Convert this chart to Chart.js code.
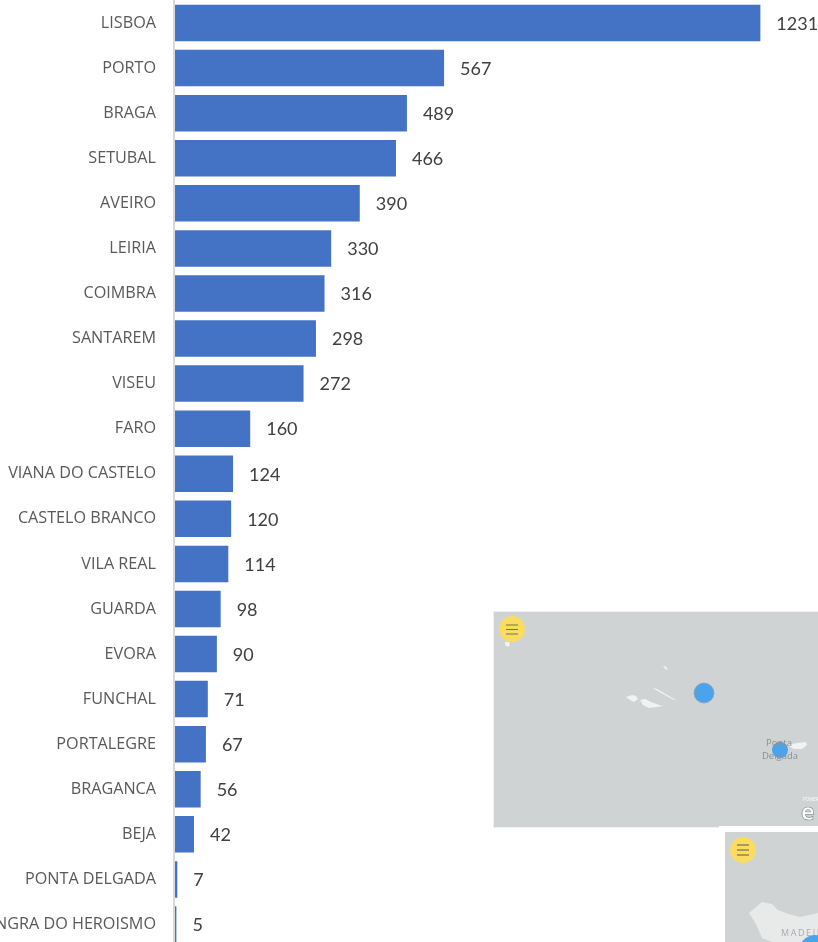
<!DOCTYPE html>
<html>
<head>
<meta charset="utf-8">
<title>Distritos</title>
<script src="https://cdn.jsdelivr.net/npm/chart.js@4"></script>
<style>
  html, body { margin: 0; padding: 0; background: #fff; width: 818px; height: 942px; overflow: hidden; }
  #wrap { position: relative; width: 818px; height: 942px; overflow: hidden; }
  #chart { position: absolute; left: 0; top: 0; }
  #maps { position: absolute; left: 0; top: 0; }
</style>
</head>
<body>
<div id="wrap">
  <canvas id="chart" width="818" height="947" style="width:818px;height:947px"></canvas>

  <!-- os dois mapas por cima do grafico -->
  <svg id="maps" width="818" height="942" viewBox="0 0 818 942" font-family="'Open Sans', sans-serif">
    <rect x="493" y="611" width="325" height="217" fill="#f0f1f1"/>
    <rect x="494" y="612" width="324" height="215" fill="#d0d3d4"/>
    <path d="M626 697 l6 -2 l4 1 l2 3 l-4 3 l-4 -2 z M640 700 l5 -1 l6 3 l8 3 l4 1 l-6 1 l-8 1 l-6 -3 z M653 688 l4 1 l19 11 l-2 0 l-20 -11 z M663 666 l2 0 l3 3 l-2 1 z M505 642 l4 0 l1 3 l-2 2 l-3 -2 z" fill="#f1f2f2"/>
    <path d="M787 745 l10 -2 l9 -1 l1 3 l-5 4 l-8 0 z" fill="#f1f2f2"/>
    <circle cx="704" cy="693" r="10" fill="#4ba3ec" stroke="#8aa3b8" stroke-width="0.8"/>
    <circle cx="780" cy="750" r="8" fill="#4ba3ec"/>
    <text x="779" y="746" font-size="9.5" fill="#8d9092" text-anchor="middle">Ponta</text>
    <text x="780" y="759" font-size="9.5" fill="#8d9092" text-anchor="middle">Delgada</text>
    <text x="803" y="801" font-size="4.5" fill="#fff">POWERED</text>
    <text x="801" y="820" font-size="23" font-weight="700" fill="#fff" stroke="#8d9092" stroke-width="0.7">e</text>
    <circle cx="512" cy="629" r="13" fill="#fbdc63"/>
    <path d="M506 625 h12 M506 629.5 h12 M506 634 h12" stroke="#77705a" stroke-width="1"/>

    <rect x="719" y="826" width="99" height="116" fill="#fff"/>
    <rect x="725" y="832" width="93" height="110" fill="#d0d3d4"/>
    <path d="M749 913 l13 -11 l10 2 l6 6 l10 4 l12 3 l18 -4 v29 h-46 l-10 -4 l-6 -14 l-5 -8 z" fill="#e8eaea"/>
    <text x="781" y="936" font-size="9" letter-spacing="1.6" fill="#a8abad">MADEIRA</text>
    <circle cx="815" cy="951" r="16" fill="#4ba3ec"/>
    <circle cx="743" cy="850" r="13" fill="#fbdc63"/>
    <path d="M737 845 h12 M737 850 h12 M737 855 h12" stroke="#5c5846" stroke-width="1"/>
  </svg>
</div>

<script>
  const distritos = [
    "LISBOA", "PORTO", "BRAGA", "SETUBAL", "AVEIRO", "LEIRIA", "COIMBRA",
    "SANTAREM", "VISEU", "FARO", "VIANA DO CASTELO", "CASTELO BRANCO",
    "VILA REAL", "GUARDA", "EVORA", "FUNCHAL", "PORTALEGRE", "BRAGANCA",
    "BEJA", "PONTA DELGADA", "ANGRA DO HEROISMO"
  ];
  const valores = [
    1231, 567, 489, 466, 390, 330, 316, 298, 272, 160, 124, 120, 114, 98, 90,
    71, 67, 56, 42, 7, 5
  ];
  const eixoMax = 1352;

  // escreve o valor ao lado de cada barra
  const rotulosBarras = {
    id: "rotulosBarras",
    afterDatasetsDraw(chart) {
      const ctx = chart.ctx;
      ctx.save();
      ctx.font = '18px Lato, sans-serif';
      ctx.fillStyle = "#404040";
      ctx.textAlign = "left";
      ctx.textBaseline = "middle";
      chart.getDatasetMeta(0).data.forEach(function (bar, i) {
        ctx.fillText(valores[i], bar.x + 16, bar.y + 1);
      });
      ctx.restore();
    }
  };

  new Chart(document.getElementById("chart").getContext("2d"), {
    type: "bar",
    data: {
      labels: distritos,
      datasets: [
        {
          data: valores,
          backgroundColor: "#4472c4",
          barPercentage: 0.81,
          categoryPercentage: 1
        }
      ]
    },
    options: {
      indexAxis: "y",
      responsive: false,
      animation: false,
      layout: { padding: { top: 0.5 } },
      plugins: {
        legend: { display: false },
        tooltip: { enabled: false }
      },
      scales: {
        x: { display: false, min: 0, max: eixoMax },
        y: {
          afterFit: function (scale) {
            // area do grafico encostada ao topo e ao fundo
            scale.width = 174;
            scale.paddingTop = 0;
            scale.paddingBottom = 0;
          },
          grid: { display: false, drawTicks: false },
          // eixo por cima das barras
          border: { display: true, color: "#d9d9d9", width: 2, z: 1 },
          ticks: {
            autoSkip: false,
            padding: 18,
            color: "#595959",
            font: { family: "'Open Sans', sans-serif", size: 16.2 }
          }
        }
      }
    },
    plugins: [rotulosBarras]
  });
</script>
</body>
</html>
